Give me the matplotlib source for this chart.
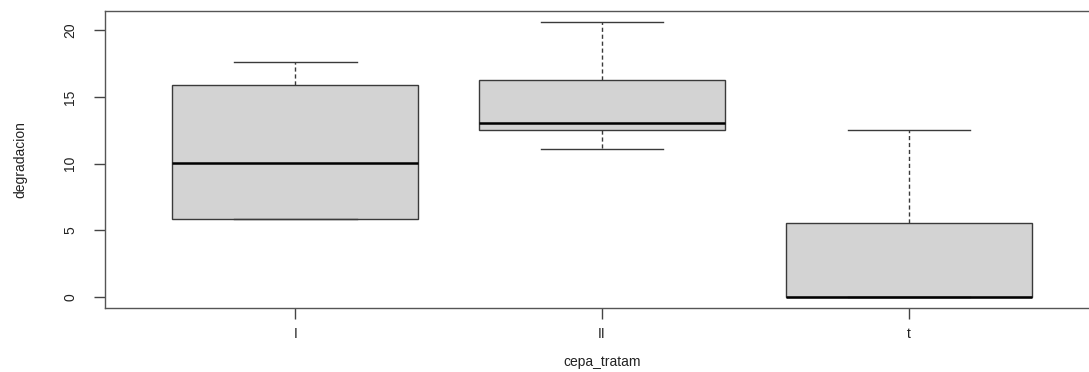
import matplotlib.pyplot as plt

plt.rcParams["font.family"] = ["Liberation Sans", "DejaVu Sans"]

# five-number summaries per group (whisker low, Q1, median, Q3, whisker high)
groups = ["I", "II", "t"]
whislo = [5.85, 11.1, 0.0]
q1 = [5.85, 12.5, 0.0]
med = [10.05, 13.05, 0.0]
q3 = [15.9, 16.25, 5.55]
whishi = [17.6, 20.6, 12.5]

stats = []
for i, g in enumerate(groups):
    stats.append(dict(label=g, whislo=whislo[i], q1=q1[i], med=med[i],
                      q3=q3[i], whishi=whishi[i], fliers=[]))

fig = plt.figure(figsize=(10.89, 3.72), dpi=100)
ax = fig.add_axes([0.0964, 0.172, 0.913, 0.798])

line_col = "#3a3a3a"
ax.bxp(stats, positions=[1, 2, 3], widths=0.8, patch_artist=True,
       showfliers=False,
       boxprops=dict(facecolor="#d3d3d3", edgecolor=line_col, linewidth=1.0),
       medianprops=dict(color="black", linewidth=1.8),
       whiskerprops=dict(color=line_col, linewidth=1.0, linestyle=(0, (3, 2))),
       capprops=dict(color=line_col, linewidth=1.0),
       capwidths=0.4)

rng = max(whishi) - min(whislo)
ax.set_ylim(min(whislo) - 0.04 * rng, max(whishi) + 0.04 * rng)
ax.set_xlim(0.38, 3.62)

ax.set_yticks([0, 5, 10, 15, 20])
ax.set_yticklabels(["0", "5", "10", "15", "20"], rotation=90, va="center")
ax.tick_params(axis="both", direction="out", length=8, width=1.0,
               color="#444444", labelsize=10, labelcolor="#222222", pad=6)
ax.tick_params(axis="y", pad=12)

for s in ax.spines.values():
    s.set_color("#555555")
    s.set_linewidth(1.0)

ax.set_xlabel("cepa_tratam", fontsize=10, color="#222222", labelpad=10)
ax.set_ylabel("degradacion", fontsize=10, color="#222222", labelpad=26)

fig.savefig("out.png", dpi=100)
